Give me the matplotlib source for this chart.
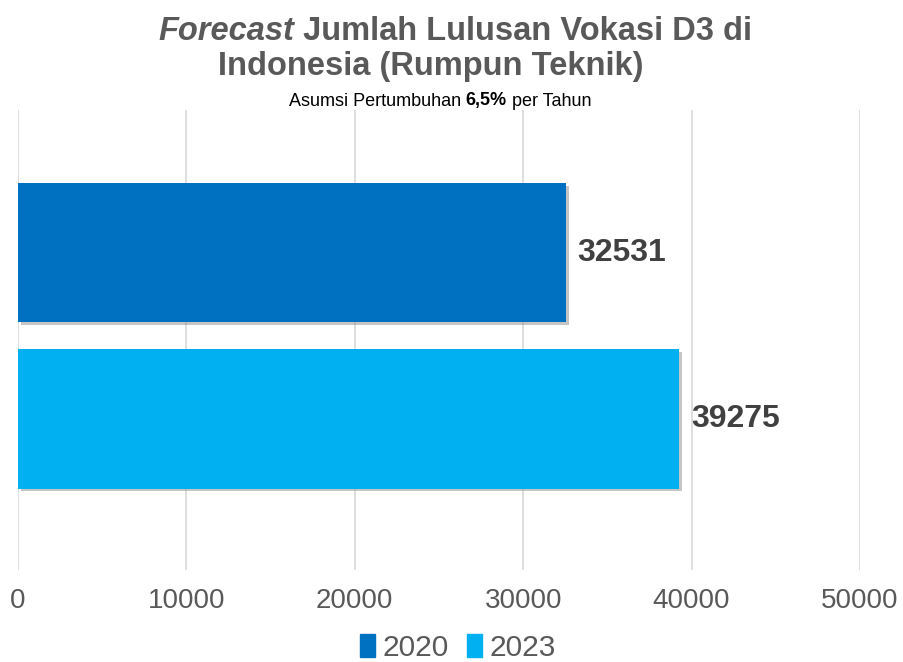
import matplotlib
matplotlib.use("Agg")
import matplotlib.pyplot as plt
import matplotlib.patheffects as pe
from matplotlib.patches import Rectangle
from matplotlib import font_manager

years = ["2020", "2023"]
values = [32531, 39275]
colors = ["#0070C0", "#00B0F0"]
xticks = [0, 10000, 20000, 30000, 40000, 50000]


def pick_font(names):
    for n in names:
        try:
            font_manager.findfont(n, fallback_to_default=False)
            return n
        except Exception:
            pass
    return "DejaVu Sans"


NARROW = pick_font(["Liberation Sans Narrow", "Liberation Sans"])
SANS = pick_font(["Liberation Sans", "DejaVu Sans"])

fig = plt.figure(figsize=(9.04, 6.62), dpi=100)
ax = fig.add_axes([18 / 904, 1 - 570 / 662, (860 - 18) / 904, (570 - 110) / 662])

ypos = [1, 0]
shadow = [pe.SimplePatchShadow(offset=(2, -2), shadow_rgbFace="#808080", alpha=0.45), pe.Normal()]
for y, v, c in zip(ypos, values, colors):
    b = ax.barh(y, v, height=0.835, color=c, zorder=3)
    for p in b:
        p.set_path_effects(shadow)
    ax.text(v + 700, y, str(v), va="center", ha="left", fontsize=23, fontweight="bold",
            color="#404040", family=SANS, zorder=4)

ax.set_xlim(0, 50000)
ax.set_ylim(-0.907, 1.856)
ax.set_xticks(xticks)
ax.set_xticklabels([str(t) for t in xticks], fontsize=20, color="#595959", family=NARROW)
ax.set_yticks([])
ax.tick_params(axis="x", length=0, pad=13)
ax.grid(axis="x", color="#D9D9D9", linewidth=1.2, zorder=0)
for s in ax.spines.values():
    s.set_visible(False)

# title with italic word
renderer = fig.canvas.get_renderer()


def runs(parts, x0, y, fontsize, color):
    x = x0
    for txt, style in parts:
        t = fig.text(x / 904, y, txt, fontsize=fontsize, color=color, family=NARROW,
                     fontweight="bold", style=style, va="center", ha="left")
        bb = t.get_window_extent(renderer=renderer)
        x += bb.width


runs([("Forecast", "italic"), (" Jumlah Lulusan Vokasi D3 di", "normal")], 158, 1 - 31 / 662, 23.5, "#595959")
fig.text(431 / 904, 1 - 66 / 662, "Indonesia (Rumpun Teknik)", fontsize=23.5, color="#595959",
         family=NARROW, fontweight="bold", ha="center", va="center")

# subtitle with bold part
sub = [("Asumsi Pertumbuhan ", "normal"), ("6,5%", "bold"), (" per Tahun", "normal")]
widths = []
for txt, w in sub:
    t = fig.text(0, 0, txt, fontsize=13, family=SANS, fontweight=w)
    widths.append(t.get_window_extent(renderer=renderer).width)
    t.remove()
x = 440 - sum(widths) / 2
for (txt, w), wd in zip(sub, widths):
    fig.text(x / 904, 1 - 101 / 662, txt, fontsize=13, family=SANS, fontweight=w,
             color="black", va="center", ha="left")
    x += wd

handles = [Rectangle((0, 0), 1, 1, color=c) for c in colors]
fig.legend(handles, years, loc="center", bbox_to_anchor=(458 / 904, 1 - 648 / 662), ncol=2,
           frameon=False, prop={"family": NARROW, "size": 21.5}, labelcolor="#595959",
           handlelength=0.5, handleheight=0.8, handletextpad=0.25, columnspacing=0.6)

fig.savefig("out.png", dpi=100)
